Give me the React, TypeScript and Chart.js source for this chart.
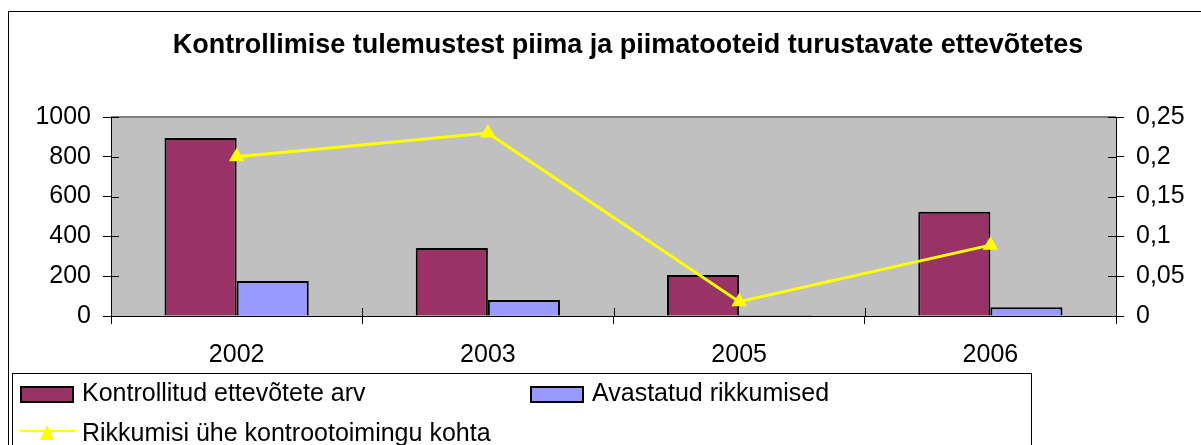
import React, { useEffect, useRef } from "react";
import { Chart, registerables } from "chart.js";

Chart.register(...registerables);

const titleText = "Kontrollimise tulemustest piima ja piimatooteid turustavate ettevõtetes";
const categories = ["2002", "2003", "2005", "2006"];
const seriesNames = ["Kontrollitud ettevõtete arv", "Avastatud rikkumised", "Rikkumisi ühe kontrootoimingu kohta"];
const checkedCompanies = [894, 342, 206, 524];
const violationsFound = [176, 80, 5, 44];
const violationsPerCheck = [0.2, 0.23, 0.018, 0.089];
const leftTickLabels = ["0", "200", "400", "600", "800", "1000"];
const rightTickLabels = ["0", "0,05", "0,1", "0,15", "0,2", "0,25"];

const FONT = "'Liberation Sans', Arial, sans-serif";
const MAROON = "#993366";
const BLUE = "#9999FF";
const YELLOW = "#FFFF00";

const decorPlugin = {
  id: "decor",
  beforeDraw(chart: any) {
    const { ctx, chartArea } = chart;
    ctx.save();
    ctx.fillStyle = "#ffffff";
    ctx.fillRect(0, 0, chart.width, chart.height);
    ctx.fillStyle = "#C0C0C0";
    ctx.fillRect(chartArea.left, chartArea.top, chartArea.right - chartArea.left, chartArea.bottom - chartArea.top);
    ctx.strokeStyle = "#808080";
    ctx.lineWidth = 2;
    ctx.beginPath();
    ctx.moveTo(chartArea.left, chartArea.top);
    ctx.lineTo(chartArea.right, chartArea.top);
    ctx.stroke();
    ctx.restore();
  },
  afterDraw(chart: any) {
    const { ctx, chartArea, scales } = chart;
    ctx.save();
    // inner halves of tick marks
    ctx.strokeStyle = "#000";
    ctx.lineWidth = 1;
    ctx.beginPath();
    scales.y.ticks.forEach((_t: any, i: number) => {
      const yy = Math.round(scales.y.getPixelForTick(i)) + 0.5;
      ctx.moveTo(chartArea.left, yy);
      ctx.lineTo(chartArea.left + 8, yy);
    });
    scales.y1.ticks.forEach((_t: any, i: number) => {
      const yy = Math.round(scales.y1.getPixelForTick(i)) + 0.5;
      ctx.moveTo(chartArea.right, yy);
      ctx.lineTo(chartArea.right - 8, yy);
    });
    const n = categories.length;
    for (let i = 0; i <= n; i++) {
      const xx = Math.round(chartArea.left + (i * (chartArea.right - chartArea.left)) / n) + 0.5;
      ctx.moveTo(xx, chartArea.bottom);
      ctx.lineTo(xx, chartArea.bottom - 8);
    }
    ctx.stroke();

    // outer frame
    ctx.strokeStyle = "#000";
    ctx.lineWidth = 1;
    ctx.strokeRect(8.5, 11.5, 1300, 500);

    // title
    ctx.fillStyle = "#000";
    ctx.font = "bold 27px " + FONT;
    ctx.textAlign = "center";
    ctx.textBaseline = "alphabetic";
    ctx.fillText(titleText, 628, 53);

    // legend box
    ctx.fillStyle = "#fff";
    ctx.fillRect(12.5, 373.5, 1019, 100);
    ctx.strokeStyle = "#000";
    ctx.strokeRect(12.5, 373.5, 1019, 100);

    ctx.font = "25px " + FONT;
    ctx.textAlign = "left";
    ctx.textBaseline = "alphabetic";
    const row1 = 401;
    const row2 = 441;
    // item 1
    ctx.fillStyle = MAROON;
    ctx.fillRect(21, 387, 52, 15);
    ctx.lineWidth = 2;
    ctx.strokeStyle = "#000";
    ctx.strokeRect(21, 387, 52, 15);
    ctx.fillStyle = "#000";
    ctx.fillText(seriesNames[0], 82, row1);
    // item 2
    ctx.fillStyle = BLUE;
    ctx.fillRect(531, 387, 52, 15);
    ctx.strokeRect(531, 387, 52, 15);
    ctx.fillStyle = "#000";
    ctx.fillText(seriesNames[1], 592, row1);
    // item 3
    ctx.strokeStyle = YELLOW;
    ctx.lineWidth = 2;
    ctx.beginPath();
    ctx.moveTo(20, 431);
    ctx.lineTo(75, 431);
    ctx.stroke();
    ctx.fillStyle = YELLOW;
    ctx.beginPath();
    ctx.moveTo(47, 425);
    ctx.lineTo(54, 440);
    ctx.lineTo(40, 440);
    ctx.closePath();
    ctx.fill();
    ctx.fillStyle = "#000";
    ctx.fillText(seriesNames[2], 82, row2);
    ctx.restore();
  },
};

export default function App() {
  const ref = useRef<HTMLCanvasElement | null>(null);
  useEffect(() => {
    if (!ref.current) return;
    const chart = new Chart(ref.current, {
      type: "bar",
      data: {
        labels: categories,
        datasets: [
          {
            type: "line",
            label: seriesNames[2],
            data: violationsPerCheck,
            yAxisID: "y1",
            borderColor: YELLOW,
            backgroundColor: YELLOW,
            borderWidth: 3,
            pointStyle: "triangle",
            pointRadius: 9,
            pointBorderWidth: 0,
            pointBackgroundColor: YELLOW,
            tension: 0,
            order: 0,
          } as any,
          {
            label: seriesNames[0],
            data: checkedCompanies,
            yAxisID: "y",
            backgroundColor: MAROON,
            borderColor: "#000",
            borderWidth: 2,
            categoryPercentage: 0.574,
            barPercentage: 1,
            order: 1,
          },
          {
            label: seriesNames[1],
            data: violationsFound,
            yAxisID: "y",
            backgroundColor: BLUE,
            borderColor: "#000",
            borderWidth: 2,
            categoryPercentage: 0.574,
            barPercentage: 1,
            order: 1,
          },
        ],
      },
      options: {
        responsive: false,
        animation: false,
        maintainAspectRatio: false,
        layout: { padding: { top: 117, left: 0, right: 0, bottom: 0 } },
        plugins: { legend: { display: false }, title: { display: false }, tooltip: { enabled: false } },
        scales: {
          x: {
            type: "category",
            offset: true,
            afterFit: (s: any) => { s.height = 129; },
            grid: { offset: true, drawOnChartArea: false, tickLength: 8, color: "#000", tickColor: "#000" },
            border: { color: "#000", width: 1 },
            ticks: { color: "#000", font: { family: FONT, size: 25 }, padding: 16, maxRotation: 0 },
          },
          y: {
            position: "left",
            min: 0,
            max: 1000,
            afterFit: (s: any) => { s.width = 111; },
            grid: { drawOnChartArea: false, tickLength: 8, color: "#000" },
            border: { color: "#000", width: 1 },
            ticks: {
              stepSize: 200,
              color: "#000",
              font: { family: FONT, size: 25 },
              padding: 12,
              callback: (_v: any, i: number) => leftTickLabels[i],
            },
          },
          y1: {
            position: "right",
            min: 0,
            max: 0.25,
            afterFit: (s: any) => { s.width = 85; },
            grid: { drawOnChartArea: false, tickLength: 8, color: "#000" },
            border: { color: "#000", width: 1 },
            ticks: {
              stepSize: 0.05,
              color: "#000",
              font: { family: FONT, size: 25 },
              padding: 12,
              callback: (_v: any, i: number) => rightTickLabels[i],
            },
          },
        },
      },
      plugins: [decorPlugin],
    });
    return () => chart.destroy();
  }, []);
  return (
    <div style={{ position: "absolute", left: 0, top: 0, width: 1201, height: 445 }}>
      <canvas ref={ref} width={1201} height={445} style={{ width: 1201, height: 445, display: "block" }} />
    </div>
  );
}
